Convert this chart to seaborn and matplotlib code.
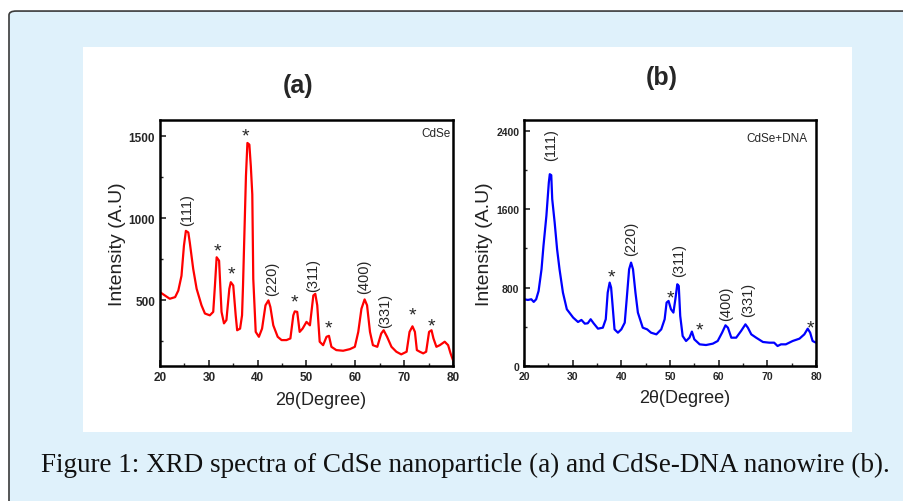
import matplotlib
matplotlib.use('Agg')
import matplotlib.pyplot as plt
from matplotlib.patches import FancyBboxPatch, Rectangle
from matplotlib.ticker import MultipleLocator
import seaborn as sns

# (a) CdSe nanoparticle
theta_a = [20, 21, 22, 23.1, 23.75, 24.4, 24.9, 25.3, 25.8, 26.1, 26.8, 27.5, 28.5, 29.2, 30.2,
           30.9, 31.25, 31.6, 32.1, 32.6, 33.1, 33.6, 34.2, 34.5, 35.0, 35.5, 35.8, 36.4, 36.8,
           37.0, 37.6, 37.9, 38.3, 38.6, 38.9, 39.1, 39.6, 40.25, 40.9, 41.6, 42.2, 42.6, 43.2,
           44.1, 44.9, 45.9, 46.7, 47.3, 47.6, 48.1, 48.6, 49.2, 50.0, 50.7, 51.4, 51.8, 52.2,
           52.7, 53.4, 54.1, 54.6, 55.1, 56.1, 57.5, 58.9, 59.9, 60.6, 61.25, 61.9, 62.4, 63.0,
           63.6, 64.5, 65.3, 65.8, 66.5, 67.4, 68.4, 69.4, 70.5, 71.1, 71.7, 72.2, 72.6, 73.2,
           73.9, 74.5, 75.1, 75.6, 76.0, 76.6, 77.3, 78.3, 79.0, 79.5, 80]
int_a = [550, 530, 510, 520, 560, 650, 833, 924, 914, 853, 692, 571, 470, 420, 409,
         430, 591, 763, 742, 430, 360, 380, 571, 611, 591, 409, 318, 328, 409,
         591, 1258, 1460, 1450, 1318, 1146, 631, 308, 278, 328, 470, 500, 460, 348,
         278, 258, 258, 268, 409, 433, 430, 308, 328, 369, 348, 530, 540, 470,
         248, 227, 278, 284, 217, 197, 193, 203, 217, 308, 449, 506, 470, 308,
         227, 217, 298, 318, 278, 217, 187, 171, 187, 308, 342, 308, 197, 187,
         177, 187, 308, 318, 268, 217, 227, 248, 227, 177, 136]
hkl_a = ['(111)', '(220)', '(311)', '(400)', '(331)']
hkl_a_x = [25.6, 43.0, 51.4, 61.9, 66.0]
hkl_a_y = [1055, 640, 658, 647, 440]
star_a_x = [31.7, 34.7, 37.4, 47.6, 54.6, 71.7, 75.5]
star_a_y = [800, 660, 1500, 490, 330, 410, 345]

# (b) CdSe-DNA nanowire
theta_b = [20, 20.8, 21.5, 22.0, 22.5, 23.0, 23.6, 24.0, 24.6, 25.1, 25.3, 25.6, 25.8, 26.3,
           26.8, 27.3, 28.0, 28.8, 30.1, 31.1, 31.8, 32.5, 33.1, 33.7, 34.3, 35.2, 36.2, 36.8,
           37.2, 37.6, 37.9, 38.1, 38.6, 39.3, 40.0, 40.7, 41.1, 41.6, 42.0, 42.4, 42.9, 43.4,
           44.4, 45.3, 46.1, 47.2, 48.2, 48.9, 49.3, 49.7, 50.2, 50.7, 51.1, 51.5, 51.8, 52.1,
           52.6, 53.3, 54.0, 54.5, 55.0, 56.1, 57.4, 58.8, 59.8, 60.7, 61.4, 61.9, 62.6, 63.6,
           64.6, 65.5, 66.0, 66.7, 67.7, 69.1, 70.4, 71.4, 72.1, 72.8, 73.8, 75.2, 76.6, 77.6,
           78.3, 78.8, 79.3, 80]
int_b = [681, 674, 681, 654, 681, 766, 987, 1225, 1532, 1872, 1957, 1947, 1702, 1464,
         1191, 987, 749, 579, 494, 449, 470, 432, 436, 477, 436, 381, 391, 477,
         749, 851, 800, 681, 374, 340, 374, 442, 681, 987, 1055, 987, 749, 545,
         391, 374, 340, 323, 374, 477, 647, 664, 579, 545, 681, 834, 817, 511,
         306, 255, 289, 351, 272, 221, 214, 228, 255, 340, 415, 391, 289, 289,
         357, 425, 391, 323, 289, 245, 238, 238, 204, 221, 221, 255, 279, 323,
         381, 340, 255, 238]
hkl_b = ['(111)', '(220)', '(311)', '(400)', '(331)']
hkl_b_x = [25.6, 42.0, 51.8, 61.5, 66.0]
hkl_b_y = [2264, 1310, 1089, 647, 681]
star_b_x = [37.9, 50.1, 56.1, 78.8]
star_b_y = [905, 690, 365, 390]

sns.set_style('ticks')
plt.rcParams['font.family'] = ['Liberation Sans', 'DejaVu Sans']
plt.rcParams['xtick.direction'] = 'in'
plt.rcParams['ytick.direction'] = 'in'

fig = plt.figure(figsize=(9.04, 5.02), dpi=100)
fig.patch.set_facecolor('white')

# light blue rounded frame and white panel behind the plots
frame = FancyBboxPatch((9 / 904, -0.05), 1.1, 0.976 + 0.05,
                       boxstyle='round,pad=0,rounding_size=0.008',
                       transform=fig.transFigure, facecolor='#dff1fb',
                       edgecolor='#3a3a3a', linewidth=1.2, zorder=0)
fig.patches.append(frame)
panel = Rectangle((83 / 904, 1 - 433 / 502), (852 - 83) / 904, (433 - 48) / 502,
                  transform=fig.transFigure, facecolor='white', edgecolor='none', zorder=1)
fig.patches.append(panel)


def draw_panel(ax, x, y, color, hkl, hx, hy, sx, sy, ylim, major, minor, tag, tag_x, tag_y, fs):
    sns.lineplot(x=x, y=y, ax=ax, color=color, linewidth=1.6, sort=False)
    ax.set_xlim(20, 80)
    ax.set_ylim(*ylim)
    ax.xaxis.set_major_locator(MultipleLocator(10))
    ax.xaxis.set_minor_locator(MultipleLocator(5))
    ax.yaxis.set_major_locator(MultipleLocator(major))
    ax.yaxis.set_minor_locator(MultipleLocator(minor))
    ax.tick_params(which='major', length=4, width=1.2)
    ax.tick_params(which='minor', length=2.5, width=1.0)
    for lab in ax.get_xticklabels() + ax.get_yticklabels():
        lab.set_fontweight('bold')
        lab.set_fontsize(fs)
    for sp in ax.spines.values():
        sp.set_visible(True)
        sp.set_linewidth(1.8)
        sp.set_color('black')
    ax.set_xlabel('2θ(Degree)', fontsize=13, labelpad=6, color='#222222')
    ax.xaxis.label.set_x(0.55)
    ax.set_ylabel('Intensity (A.U)', fontsize=14, labelpad=2, color='#222222')
    for t, px, py in zip(hkl, hx, hy):
        ax.text(px, py, t, rotation=90, ha='center', va='center', fontsize=10.5)
    for px, py in zip(sx, sy):
        ax.text(px, py, '*', ha='center', va='center', fontsize=14)
    ax.text(tag_x, tag_y, tag, ha='right', va='center', fontsize=8.5)
    ax.set_facecolor('white')


ax_a = fig.add_axes([160 / 904, 1 - 367 / 502, 293 / 904, 246 / 502], zorder=2)
draw_panel(ax_a, theta_a, int_a, '#ff0000', hkl_a, hkl_a_x, hkl_a_y, star_a_x, star_a_y,
           (100, 1600), 500, 250, 'CdSe', 79.5, 1520, 8.5)

ax_b = fig.add_axes([524 / 904, 1 - 367 / 502, 292 / 904, 246 / 502], zorder=2)
draw_panel(ax_b, theta_b, int_b, '#0000ff', hkl_b, hkl_b_x, hkl_b_y, star_b_x, star_b_y,
           (0, 2510), 800, 400, 'CdSe+DNA', 78.2, 2330, 7.5)

fig.text(298 / 904, 1 - 86 / 502, '(a)', ha='center', va='center', fontsize=18,
         fontweight='bold', zorder=3)
fig.text(662 / 904, 1 - 78 / 502, '(b)', ha='center', va='center', fontsize=18,
         fontweight='bold', zorder=3)
fig.text(465 / 904, 1 - 465 / 502,
         'Figure 1: XRD spectra of CdSe nanoparticle (a) and CdSe-DNA nanowire (b).',
         ha='center', va='center', fontsize=19.5, family='Liberation Serif', color='#111111',
         zorder=3)

fig.savefig('out.png', dpi=100)
